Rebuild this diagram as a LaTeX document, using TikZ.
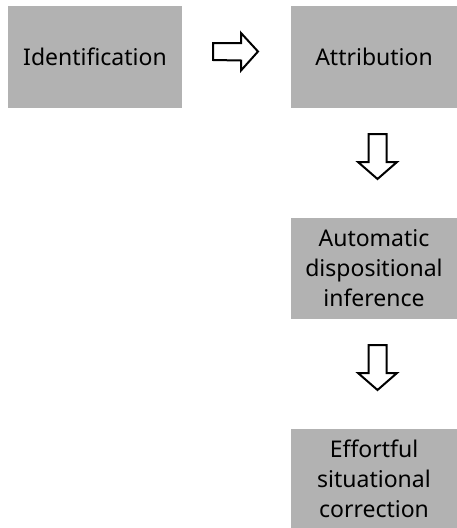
\documentclass[tikz,border=0pt]{standalone}
\usepackage{fontspec}
\setmainfont{Noto Sans}
\usetikzlibrary{calc}

\tikzset{
  stage/.style={fill=black!30, align=center, inner sep=0pt,
    font=\fontsize{23}{30}\selectfont},
  blockarrow/.style={draw=black, fill=white, line width=2pt, line join=miter}
}

\begin{document}
\begin{tikzpicture}[x=1pt, y=1pt]
  \useasboundingbox (0,0) rectangle (457,-528);
  % stages
  \node[stage, minimum width=174, minimum height=102] (ident) at (95,-57) {Identification};
  \node[stage, minimum width=166, minimum height=102] (attr) at (374,-57) {Attribution};
  \node[stage, minimum width=166, minimum height=101] (auto) at (374,-268.5)
    {Automatic\\dispositional\\inference};
  \node[stage, minimum width=166, minimum height=99] (effort) at (374,-478.5)
    {Effortful\\situational\\correction};
  % right arrow
  \coordinate (r) at (213,-51.5);
  \draw[blockarrow] ($(r)+(0,8.5)$) -- ++(28,0) -- ++(0,10) -- ($(r)+(45,0)$)
    -- ($(r)+(28,-19)$) -- ++(0,10) -- ($(r)+(0,-8.5)$) -- cycle;
  % down arrows
  \foreach \t in {134,345} {
    \coordinate (d) at (377.5,-\t);
    \draw[blockarrow] ($(d)+(-9,0)$) -- ++(0,-28) -- ++(-10.5,0) -- ($(d)+(0,-45)$)
      -- ($(d)+(19.5,-28)$) -- ++(-10.5,0) -- ($(d)+(9,0)$) -- cycle;
  }
\end{tikzpicture}
\end{document}
